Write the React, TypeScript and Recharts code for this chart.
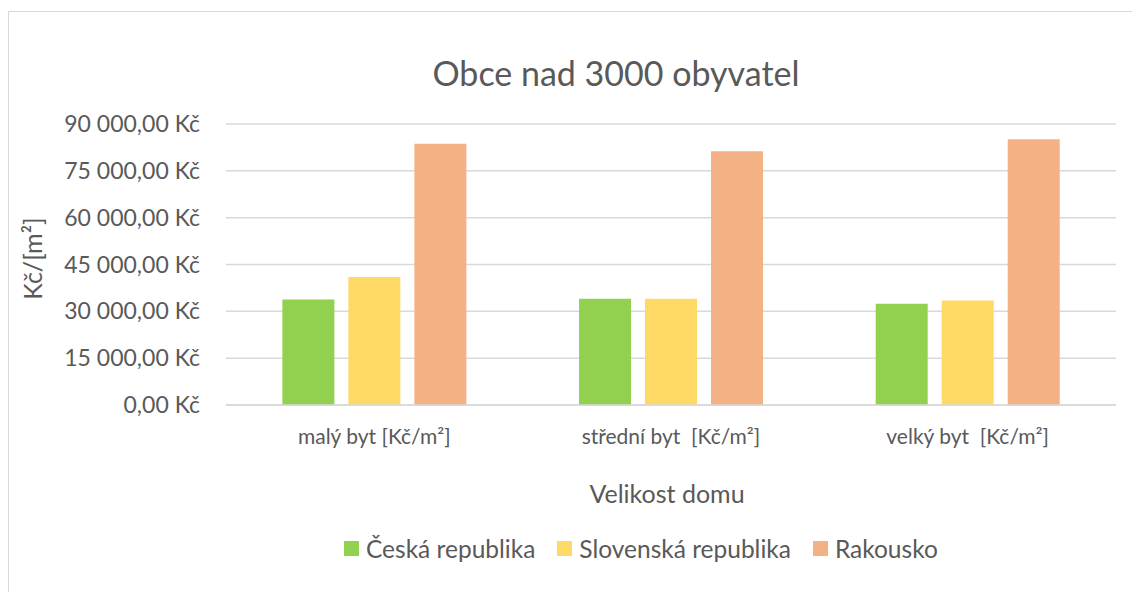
import React from 'react';
import { BarChart, Bar, XAxis, YAxis, CartesianGrid, Legend, Label } from 'recharts';

const categories = ['malý byt [Kč/m²]', 'střední byt  [Kč/m²]', 'velký byt  [Kč/m²]'];
const ceskaRepublika = [33800, 34000, 32400];
const slovenskaRepublika = [41000, 34000, 33500];
const rakousko = [83700, 81300, 85100];
const yTicks = [0, 15000, 30000, 45000, 60000, 75000, 90000];

const seriesNames = ['Česká republika', 'Slovenská republika', 'Rakousko'];
const seriesColors = ['#92D050', '#FFD966', '#F4B183'];

const FONT = 'Lato, "Open Sans", sans-serif';
const TEXT = '#595959';
const GRID = '#D9D9D9';

const data = categories.map((name, i) => ({
  name,
  cz: ceskaRepublika[i],
  sk: slovenskaRepublika[i],
  at: rakousko[i],
}));

// "90 000,00 Kč"
const formatKc = (v: number) => {
  const whole = Math.round(v).toString().replace(/\B(?=(\d{3})+(?!\d))/g, ' ');
  return `${whole},00 Kč`;
};

// popisky kategorií - zachovat dvojitou mezeru
const CategoryTick = ({ x, y, payload }: any) => (
  <text
    x={x}
    y={y}
    dy="0.71em"
    textAnchor="middle"
    fill={TEXT}
    fontSize={21}
    fontFamily={FONT}
    style={{ whiteSpace: 'pre' }}
  >
    {payload.value}
  </text>
);

// legenda vodorovně, pořadí podle sérií
const LegendRow = ({ payload }: any) => {
  const items = [...(payload || [])].sort(
    (a: any, b: any) => seriesNames.indexOf(a.value) - seriesNames.indexOf(b.value)
  );
  return (
    <div style={{ display: 'flex', alignItems: 'center', fontFamily: FONT, fontSize: 24.5, color: TEXT, whiteSpace: 'nowrap' }}>
      {items.map((p: any, i: number) => (
        <div key={i} style={{ display: 'flex', alignItems: 'center', marginRight: 22 }}>
          <div style={{ width: 15, height: 15, background: p.color, marginRight: 7 }} />
          <span>{p.value}</span>
        </div>
      ))}
    </div>
  );
};

export default function App() {
  return (
    <div style={{ position: 'fixed', left: 0, top: 0, width: 1132, height: 592, background: '#fff', overflow: 'hidden' }}>
      {/* rámeček grafu */}
      <div style={{ position: 'absolute', left: 8, top: 11, width: 1300, height: 700, border: `1.5px solid ${GRID}` }} />

      <div style={{
        position: 'absolute', left: 0, width: 1232, top: 52, textAlign: 'center',
        fontFamily: FONT, fontSize: 34, color: TEXT,
      }}>
        Obce nad 3000 obyvatel
      </div>

      <BarChart
        width={1132}
        height={592}
        data={data}
        margin={{ top: 124, right: 16, left: 0, bottom: 0 }}
        barGap={14}
        barCategoryGap="19%"
        style={{ position: 'absolute', left: 0, top: 0 }}
      >
        <CartesianGrid vertical={false} stroke={GRID} strokeWidth={1.5} />
        <XAxis
          dataKey="name"
          height={187}
          axisLine={{ stroke: GRID, strokeWidth: 1.5 }}
          tickLine={false}
          tickMargin={18}
          tick={<CategoryTick />}
          interval={0}
        >
          <Label
            content={({ viewBox }: any) => (
              <text
                x={viewBox.x + viewBox.width / 2 - 4}
                y={viewBox.y + 98}
                textAnchor="middle"
                fill={TEXT}
                fontSize={25}
                fontFamily={FONT}
              >
                Velikost domu
              </text>
            )}
          />
        </XAxis>
        <YAxis
          width={226}
          domain={[0, 90000]}
          ticks={yTicks}
          axisLine={false}
          tickLine={false}
          tickMargin={20}
          tickFormatter={formatKc}
          tick={{ fill: TEXT, fontSize: 23, fontFamily: FONT }}
        >
          <Label
            content={({ viewBox }: any) => {
              const cy = viewBox.y + viewBox.height / 2 - 6;
              return (
                <text
                  x={42}
                  y={cy}
                  transform={`rotate(-90, 42, ${cy})`}
                  textAnchor="middle"
                  fill={TEXT}
                  fontSize={25}
                  fontFamily={FONT}
                >
                  Kč/[m²]
                </text>
              );
            }}
          />
        </YAxis>
        <Legend
          layout="vertical"
          align="center"
          verticalAlign="middle"
          content={<LegendRow />}
          wrapperStyle={{ left: 344, top: 534, width: 'auto', height: 'auto' }}
        />
        <Bar dataKey="cz" name={seriesNames[0]} fill={seriesColors[0]} isAnimationActive={false} />
        <Bar dataKey="sk" name={seriesNames[1]} fill={seriesColors[1]} isAnimationActive={false} />
        <Bar dataKey="at" name={seriesNames[2]} fill={seriesColors[2]} isAnimationActive={false} />
      </BarChart>
    </div>
  );
}
